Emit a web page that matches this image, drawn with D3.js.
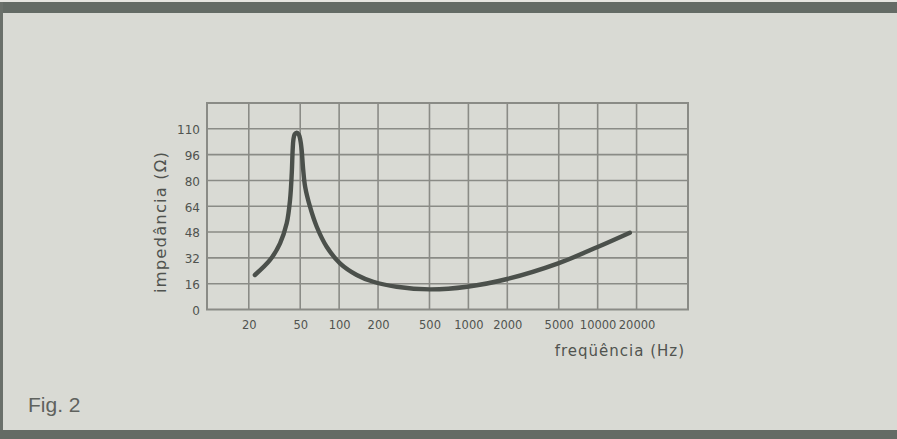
<!DOCTYPE html>
<html>
<head>
<meta charset="utf-8">
<script src="https://cdn.jsdelivr.net/npm/d3@7"></script>
<style>
  html, body { margin: 0; padding: 0; background: #d9dad4; }
  svg { display: block; }
</style>
</head>
<body>
<svg id="chart" width="897" height="439"></svg>
<script>
// ---- data ----
const xTickValues = [20, 50, 100, 200, 500, 1000, 2000, 5000, 10000, 20000];
const xTickLabels = ["20", "50", "100", "200", "500", "1000", "2000", "5000", "10000", "20000"];
const yTickValues = [0, 16, 32, 48, 64, 80, 96, 112];
const yTickLabels = ["0", "16", "32", "48", "64", "80", "96", "110"];
const frequency = [22.3, 29.2, 34.9, 39.3, 41.7, 43.0, 43.7, 44.3, 45.3, 47, 48.8, 50.1, 51.3, 52.6, 54.6, 59.5, 67.1, 80.1, 101.6, 136.8, 183.8, 278.6, 504, 979, 1996, 4950, 10090, 17740];
const impedance = [21.4, 30.7, 41.0, 53.4, 67.9, 84.4, 98.9, 105.5, 108.6, 109.6, 108.4, 105.0, 98.9, 87.5, 76.0, 63.7, 51.3, 38.9, 28.6, 21.4, 17.2, 14.1, 12.5, 14.1, 18.9, 28.6, 38.9, 47.6];
const xTitle = "freqüência (Hz)";
const yTitle = "impedância (Ω)";
const figLabel = "Fig. 2";

// ---- layout ----
const svg = d3.select("#chart");
const W = 897, H = 439;
const plot = { left: 207, right: 688, top: 103, bottom: 309.5 };

const x = d3.scaleLog().domain([9.5, 50000]).range([plot.left, plot.right]);
const y = d3.scaleLinear().domain([0, 128]).range([plot.bottom, plot.top]);

const gridColor = "#8a8b86";
const textColor = "#50534f";

// page frame
svg.append("rect").attr("x", 0).attr("y", 0).attr("width", W).attr("height", H).attr("fill", "#d9dad4");
svg.append("rect").attr("x", 0).attr("y", 0).attr("width", W).attr("height", 2).attr("fill", "#e6e6e1");
svg.append("rect").attr("x", 0).attr("y", 2).attr("width", W).attr("height", 11).attr("fill", "#646b65");
svg.append("rect").attr("x", 0).attr("y", 2).attr("width", 3).attr("height", H).attr("fill", "#6a706a");
svg.append("rect").attr("x", 0).attr("y", 430).attr("width", W).attr("height", 9).attr("fill", "#646b65");

const g = svg.append("g");

// grid: vertical lines
g.append("g")
  .selectAll("line")
  .data(xTickValues)
  .join("line")
  .attr("x1", d => x(d)).attr("x2", d => x(d))
  .attr("y1", plot.top).attr("y2", plot.bottom)
  .attr("stroke", gridColor).attr("stroke-width", 1.6);

// grid: horizontal lines
g.append("g")
  .selectAll("line")
  .data(yTickValues.slice(1))
  .join("line")
  .attr("x1", plot.left).attr("x2", plot.right)
  .attr("y1", d => y(d)).attr("y2", d => y(d))
  .attr("stroke", gridColor).attr("stroke-width", 1.6);

// plot box
g.append("rect")
  .attr("x", plot.left).attr("y", plot.top)
  .attr("width", plot.right - plot.left).attr("height", plot.bottom - plot.top)
  .attr("fill", "none").attr("stroke", gridColor).attr("stroke-width", 2);

// axes (labels only)
const xAxis = d3.axisBottom(x)
  .tickValues(xTickValues)
  .tickFormat((d, i) => xTickLabels[i])
  .tickSize(0).tickPadding(11);
const xg = svg.append("g").attr("transform", `translate(0,${plot.bottom})`).call(xAxis);
xg.select(".domain").remove();
xg.selectAll("text")
  .attr("fill", textColor)
  .style("font-family", "'DejaVu Sans', sans-serif")
  .style("font-size", "11.5px");

const yAxis = d3.axisLeft(y)
  .tickValues(yTickValues)
  .tickFormat((d, i) => yTickLabels[i])
  .tickSize(0).tickPadding(7);
const yg = svg.append("g").attr("transform", `translate(${plot.left},1)`).call(yAxis);
yg.select(".domain").remove();
yg.selectAll("text")
  .attr("fill", textColor)
  .style("font-family", "'DejaVu Sans', sans-serif")
  .style("font-size", "12px");

// curve
const pts = frequency.map((f, i) => [f, impedance[i]]);
const line = d3.line()
  .x(d => x(d[0]))
  .y(d => y(d[1]))
  .curve(d3.curveCatmullRom.alpha(0.5));
g.append("path")
  .datum(pts)
  .attr("d", line)
  .attr("fill", "none")
  .attr("stroke", "#4b504b")
  .attr("stroke-width", 4.4)
  .attr("stroke-linecap", "round")
  .attr("stroke-linejoin", "round");

// axis titles
svg.append("text")
  .attr("x", 685).attr("y", 356)
  .attr("text-anchor", "end")
  .attr("fill", textColor)
  .style("font-family", "'DejaVu Sans', sans-serif")
  .style("font-size", "15px")
  .style("letter-spacing", "1px")
  .text(xTitle);

svg.append("text")
  .attr("transform", `translate(166,222) rotate(-90)`)
  .attr("text-anchor", "middle")
  .attr("fill", textColor)
  .style("font-family", "'DejaVu Sans', sans-serif")
  .style("font-size", "16.5px")
  .style("letter-spacing", "1.1px")
  .text(yTitle);

// figure label
svg.append("text")
  .attr("x", 28).attr("y", 412)
  .attr("fill", "#5f625e")
  .style("font-family", "'Liberation Sans', sans-serif")
  .style("font-size", "21px")
  .text(figLabel);
</script>
</body>
</html>
